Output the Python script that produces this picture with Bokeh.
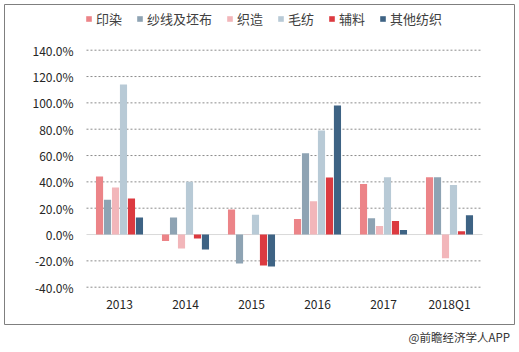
from bokeh.plotting import figure
from bokeh.models import (Range1d, FixedTicker, NumeralTickFormatter,
                          Legend, LegendItem, ColumnDataSource, Div)
from bokeh.layouts import column
from bokeh.embed import file_html
from bokeh.resources import INLINE

categories = ["2013", "2014", "2015", "2016", "2017", "2018Q1"]
series_names = ["印染", "纱线及坯布", "织造", "毛纺", "辅料", "其他纺织"]
yinran = [44.0, -5.0, 19.0, 11.8, 38.3, 43.6]
shaxian = [26.5, 13.0, -22.0, 61.8, 12.3, 43.6]
zhizao = [35.8, -10.6, 0.3, 25.2, 6.5, -18.0]
maofang = [114.0, 40.0, 15.0, 79.0, 43.6, 37.6]
fuliao = [27.3, -3.0, -23.5, 43.4, 10.3, 2.5]
qita = [13.0, -11.4, -24.2, 98.0, 3.5, 14.6]
y_ticks = [-40, -20, 0, 20, 40, 60, 80, 100, 120, 140]
credit_text = "@前瞻经济学人APP"

series_values = [yinran, shaxian, zhizao, maofang, fuliao, qita]
colors = ["#EC8488", "#8EA3B3", "#F2B6BA", "#B8CAD6", "#DC3A40", "#3E6384"]

FONT = "Noto Sans CJK SC"
n = len(categories)

# the frame is the grey box of the chart; the plotting band is categories -0.5 .. n-0.5
p = figure(x_range=Range1d(-1.7424, n - 1 + 0.9848),
           y_range=Range1d(-0.6833, 1.7471),
           width=519, height=328, output_backend="svg", toolbar_location=None,
           min_border_left=4, min_border_right=5, min_border_top=4, min_border_bottom=4)
p.title.visible = False
p.outline_line_color = "#7F7F7F"
p.outline_line_width = 1
p.background_fill_color = "white"
p.border_fill_color = "white"
p.xgrid.grid_line_color = None
p.ygrid.grid_line_color = None

# grid lines
grid_vals = [t / 100.0 for t in y_ticks if t != 0]
p.segment(x0=[-0.5] * len(grid_vals), x1=[n - 0.5] * len(grid_vals), y0=grid_vals, y1=grid_vals,
          line_color="#8C8C8C", line_dash="2 2", line_width=1)
p.segment(x0=[-0.5], x1=[n - 0.5], y0=[0], y1=[0], line_color="#D9D9D9", line_width=1)

step = 0.121
bw = 0.108
renderers = []
for j, vals in enumerate(series_values):
    src = ColumnDataSource({"x": [i + (j - 2.5) * step for i in range(n)],
                            "top": [v / 100.0 for v in vals]})
    r = p.vbar(x="x", top="top", width=bw, source=src, fill_color=colors[j], line_color=None)
    renderers.append(r)

# axes
p.yaxis.ticker = FixedTicker(ticks=[t / 100.0 for t in y_ticks])
p.yaxis.formatter = NumeralTickFormatter(format="0.0%")
p.yaxis.axis_line_color = None
p.yaxis.major_tick_line_color = None
p.yaxis.minor_tick_line_color = None
p.yaxis.major_tick_out = 0
p.yaxis.major_tick_in = 0
p.yaxis.major_label_standoff = -69
p.yaxis.major_label_text_font = FONT
p.yaxis.major_label_text_font_size = "12px"
p.yaxis.major_label_text_color = "#262626"

p.xaxis.ticker = FixedTicker(ticks=list(range(n)))
p.xaxis.major_label_overrides = {i: c for i, c in enumerate(categories)}
p.xaxis.axis_line_color = None
p.xaxis.major_tick_line_color = None
p.xaxis.minor_tick_line_color = None
p.xaxis.major_tick_out = 0
p.xaxis.major_tick_in = 0
p.xaxis.major_label_standoff = -30
p.xaxis.major_label_text_font = FONT
p.xaxis.major_label_text_font_size = "12px"
p.xaxis.major_label_text_color = "#262626"

legend = Legend(items=[LegendItem(label=series_names[i], renderers=[renderers[i]]) for i in range(6)],
                orientation="horizontal", location=(81, 296),
                padding=0, margin=0, spacing=14, label_standoff=4,
                glyph_width=7, glyph_height=7, label_height=16,
                label_text_font=FONT, label_text_font_size="13px",
                label_text_color="#404040",
                border_line_color=None, background_fill_alpha=0)
p.add_layout(legend)

credit = Div(text=credit_text, width=519, height=24,
             styles={"text-align": "right", "font-size": "11.5px", "font-family": FONT,
                     "color": "#333333", "line-height": "8px", "padding-right": "14px",
                     "box-sizing": "border-box", "width": "519px"})

layout = column(p, credit, spacing=0)

open("out.html", "w").write(file_html(layout, INLINE))
